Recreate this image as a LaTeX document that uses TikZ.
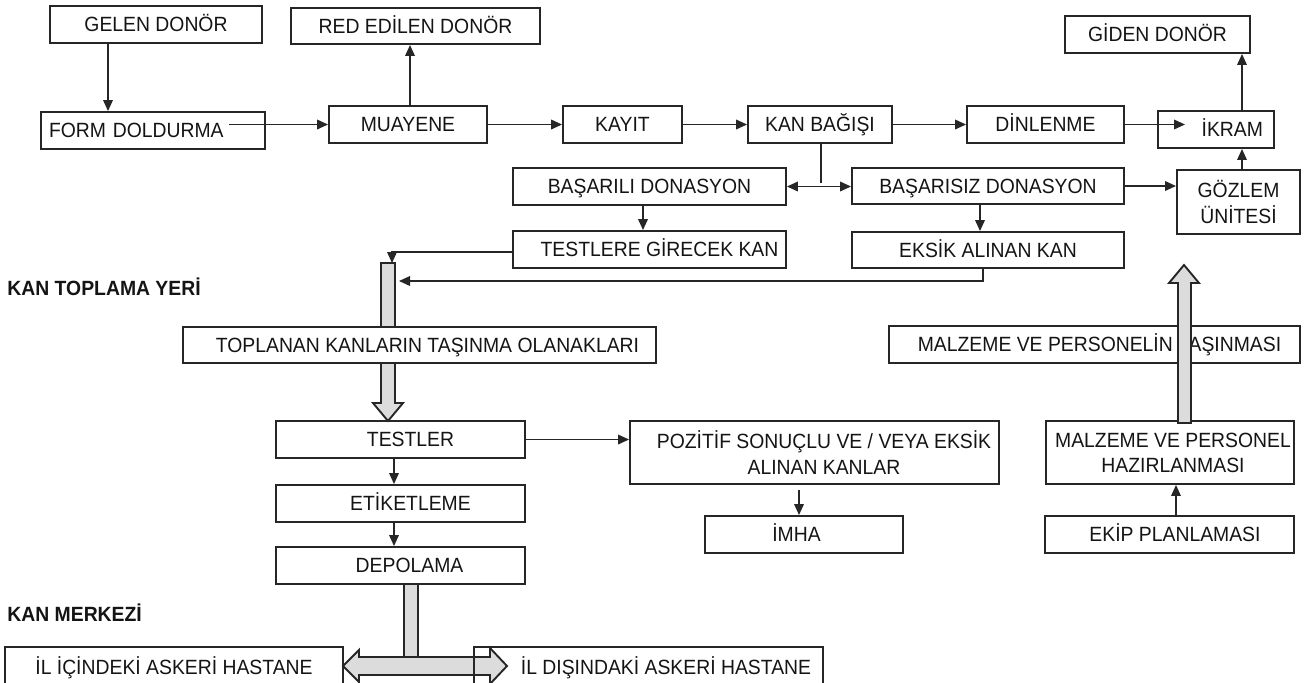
\documentclass[tikz,border=0pt]{standalone}
\usepackage{fontspec}
\setmainfont{Liberation Sans}[FakeStretch=0.94]
\usetikzlibrary{arrows.meta,calc}
\definecolor{ln}{HTML}{262626}
\definecolor{gfill}{HTML}{DCDCDC}
\definecolor{tx}{HTML}{141414}
\newcommand\dfont{\fontsize{10.3pt}{12.6pt}\selectfont}
\newcommand\sh[1]{\hspace*{#1pt}}
\begin{document}
\begin{tikzpicture}[x=0.5pt,y=-0.5pt,
  box/.style={draw=ln, line width=0.95pt, inner sep=0pt, align=center, font=\dfont, text=tx, text height=7.4pt, text depth=0pt},
  boxtwo/.style={draw=ln, line width=0.95pt, inner sep=0pt, align=center, font=\dfont, text=tx},
  arr/.style={draw=ln, line width=0.8pt, -{Triangle[length=5.5pt,width=4.8pt]}},
  darr/.style={draw=ln, line width=0.8pt, {Triangle[length=5.5pt,width=4.8pt]}-{Triangle[length=5.5pt,width=4.8pt]}},
  plainln/.style={draw=ln, line width=0.8pt},
  fat/.style={draw=ln, line width=0.95pt, fill=gfill, line join=miter},
  lbl/.style={font=\dfont\bfseries, text=tx, anchor=west, inner sep=0pt}]
\useasboundingbox (0,0) rectangle (1308,682);
\clip (0,0) rectangle (1308,682);

% top rows
\node[box, minimum width=106pt, minimum height=18.5pt] (gelen) at (156,24.5) {GELEN DONÖR};
\node[box, minimum width=124.5pt, minimum height=18pt] (red) at (415.5,26) {RED EDİLEN DONÖR};
\node[box, minimum width=112pt, minimum height=18.5pt, text width=104pt, align=left] (form) at (153,130.5) {FORM DOLDURMA};
\node[box, minimum width=79pt, minimum height=18.5pt] (muayene) at (408,124.5) {MUAYENE};
\node[box, minimum width=59.5pt, minimum height=18.5pt] (kayit) at (622.5,124.5) {KAYIT};
\node[box, minimum width=72pt, minimum height=18.5pt] (kan) at (820,124.5) {KAN BAĞIŞI};
\node[box, minimum width=78.5pt, minimum height=18.5pt] (dinlenme) at (1045.5,124.5) {DİNLENME};
\node[box, minimum width=58pt, minimum height=18.5pt, text width=47pt, align=right] (ikram) at (1216,129.5) {İKRAM};
\node[box, minimum width=92.5pt, minimum height=18.5pt] (giden) at (1157.5,34.5) {GİDEN DONÖR};
\node[box, minimum width=136.5pt, minimum height=18.5pt] (basarili) at (649.5,186.5) {BAŞARILI DONASYON};
\node[box, minimum width=136pt, minimum height=18pt] (basarisiz) at (988,186) {BAŞARISIZ DONASYON};
\node[boxtwo, minimum width=61.5pt, minimum height=32pt] (gozlem) at (1238.5,202) {GÖZLEM\\ÜNİTESİ};
\node[box, minimum width=136.5pt, minimum height=18.5pt] (testlere) at (649.5,249.5) {\sh{10}TESTLERE GİRECEK KAN};
\node[box, minimum width=136pt, minimum height=18pt] (eksik) at (988,250) {EKSİK ALINAN KAN};

% labels
\node[lbl] (ktp) at (7,287) {KAN TOPLAMA YERİ};
\node[lbl] (km) at (7,613) {KAN MERKEZİ};

% middle
\node[box, minimum width=236.5pt, minimum height=18pt] (toplanan) at (419.5,345) {\sh{8}TOPLANAN KANLARIN TAŞINMA OLANAKLARI};
\node[box, minimum width=205.5pt, minimum height=18.5pt] (tasinma) at (1094.5,344.5) {\sh{5}MALZEME VE PERSONELİN TAŞINMASI};
\node[box, minimum width=124.5pt, minimum height=18.5pt] (testler) at (400.5,439.5) {\sh{10}TESTLER};
\node[box, minimum width=124.5pt, minimum height=18.5pt] (etiket) at (400.5,503.5) {\sh{10}ETİKETLEME};
\node[box, minimum width=124.5pt, minimum height=18.5pt] (depolama) at (400.5,565.5) {\sh{9}DEPOLAMA};
\node[boxtwo, minimum width=184.5pt, minimum height=31.5pt] (pozitif) at (814.5,452.5) {\sh{9.5}POZİTİF SONUÇLU VE / VEYA EKSİK\\\sh{9.5}ALINAN KANLAR};
\node[box, minimum width=99pt, minimum height=18.5pt] (imha) at (804,534.5) {İMHA\sh{7.5}};
\node[boxtwo, minimum width=124pt, minimum height=31.5pt] (hazir) at (1170,452.5) {\sh{3}MALZEME VE PERSONEL\\\sh{3}HAZIRLANMASI};
\node[box, minimum width=124.5pt, minimum height=18.5pt] (ekip) at (1169.5,534.5) {\sh{5.5}EKİP PLANLAMASI};

% connectors top
\coordinate (xa) at (108,0);
\draw[arr] (gelen.south -| xa) -- (form.north -| xa);
\coordinate (fs) at (229,124.5);
\draw[arr] (fs) -- (muayene.west);
\coordinate (xb) at (410,0);
\draw[arr] (muayene.north -| xb) -- (red.south -| xb);
\draw[arr] (muayene) -- (kayit);
\draw[arr] (kayit) -- (kan);
\draw[arr] (kan) -- (dinlenme);
\coordinate (ik) at (1185,124.5);
\draw[arr] (dinlenme.east) -- (ik);
\coordinate (xc) at (1242,0);
\draw[arr] (ikram.north -| xc) -- (giden.south -| xc);
\draw[arr] (gozlem.north -| xc) -- (ikram.south -| xc);
\draw[arr] (basarisiz.east) -- (basarisiz.east -| gozlem.west);
\coordinate (sp) at (821,183);
\draw[plainln] (kan.south -| sp) -- (sp);
\draw[darr] (basarili.east) -- (basarili.east -| basarisiz.west);
\coordinate (xd) at (643,0);
\draw[arr] (basarili.south -| xd) -- (testlere.north -| xd);
\coordinate (xe) at (980,0);
\draw[arr] (basarisiz.south -| xe) -- (eksik.north -| xe);

% gray bar into TOPLANAN
\draw[fat] (381,263) rectangle (395,327);
\coordinate (bt) at (392,263);
\coordinate (tw) at (0,252);
\draw[arr] (testlere.west |- tw) -| (bt);
\coordinate (br) at (399,281);
\coordinate (xf) at (983,0);
\draw[arr] (eksik.south -| xf) |- (br);

% gray down arrow to TESTLER
\draw[fat] (381,363) -- (381,403) -- (373,403) -- (388,421) -- (403,403) -- (395,403) -- (395,363) -- cycle;

% lower connectors
\coordinate (xg) at (394,0);
\draw[arr] (testler.south -| xg) -- (etiket.north -| xg);
\draw[arr] (etiket.south -| xg) -- (depolama.north -| xg);
\draw[arr] (testler.east) -- (testler.east -| pozitif.west);
\coordinate (xh) at (799,0);
\draw[arr, shorten <=2.5pt] (pozitif.south -| xh) -- (imha.north -| xh);
\coordinate (xi) at (1176,0);
\draw[arr] (ekip.north -| xi) -- (hazir.south -| xi);

% gray up arrow over TASINMA
\draw[fat] (1178,423) -- (1178,283) -- (1169,283) -- (1184,265) -- (1199,283) -- (1191,283) -- (1191,423) -- cycle;

% depolama bar and double arrow
\draw[fat] (404,584) rectangle (418,657);
\draw[fat] (343,666) -- (359,650) -- (359,657) -- (490,657) -- (490,648) -- (507,666) -- (490,684) -- (490,675) -- (359,675) -- (359,682) -- cycle;

% hospitals
\node[box, minimum width=169pt, minimum height=20pt] (ilici) at (174,667) {İL İÇİNDEKİ ASKERİ HASTANE};
\node[box, minimum width=174.5pt, minimum height=20pt] (ildisi) at (648.5,667) {\sh{17.5}İL DIŞINDAKİ ASKERİ HASTANE};
\end{tikzpicture}
\end{document}
